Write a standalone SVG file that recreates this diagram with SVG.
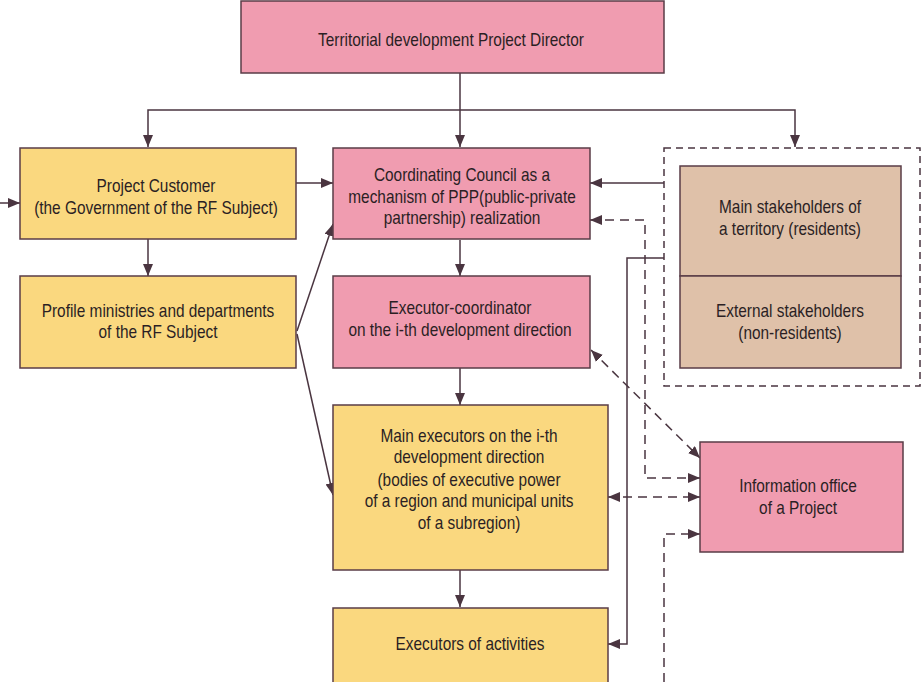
<svg xmlns="http://www.w3.org/2000/svg" width="922" height="682" viewBox="0 0 922 682">
<style>
.pink{fill:#f09cb0;stroke:#5a3c47;stroke-width:1.5}
.yellow{fill:#fad87f;stroke:#5a3c47;stroke-width:1.5}
.tan{fill:#dfc1a9;stroke:#5a3c47;stroke-width:1.5}
.frame{fill:none;stroke:#4a3540;stroke-width:1.5;stroke-dasharray:7,5}
text{font-family:"Liberation Sans",Arial,sans-serif;font-size:17.5px;fill:#2b1f24;text-anchor:middle}
.c{fill:none;stroke:#4a3540;stroke-width:1.5}
.d{fill:none;stroke:#4a3540;stroke-width:1.5;stroke-dasharray:9,6}
</style>
<defs>
<marker id="ah" viewBox="0 0 12 10" refX="12" refY="5" markerWidth="12" markerHeight="10" markerUnits="userSpaceOnUse" orient="auto-start-reverse">
<path d="M0,0 L12,5 L0,10 z" fill="#4a3540"/>
</marker>
</defs>
<rect width="922" height="682" fill="#ffffff"/>
<g id="connectors">
<path class="c" d="M460,73 V147" marker-end="url(#ah)"/>
<path class="c" d="M148,147 V110 H795 V147" marker-start="url(#ah)" marker-end="url(#ah)"/>
<path class="c" d="M0,203 H20" marker-end="url(#ah)"/>
<path class="c" d="M296,183 H333" marker-end="url(#ah)"/>
<path class="c" d="M148,239 V276" marker-end="url(#ah)"/>
<path class="c" d="M460,240 V276" marker-end="url(#ah)"/>
<path class="c" d="M460,368 V405" marker-end="url(#ah)"/>
<path class="c" d="M460,570 V607" marker-end="url(#ah)"/>
<path class="c" d="M297,331 L333,224" marker-end="url(#ah)"/>
<path class="c" d="M297,334 L333,495" marker-end="url(#ah)"/>
<path class="c" d="M664,183 H590" marker-end="url(#ah)"/>
<path class="c" d="M664,258 H627 V644 H608" marker-end="url(#ah)"/>
<path class="d" d="M590,220 H645 V478 H700" marker-start="url(#ah)" marker-end="url(#ah)"/>
<path class="d" d="M591,350 L700,458" marker-start="url(#ah)" marker-end="url(#ah)"/>
<path class="d" d="M608,497 H700" marker-start="url(#ah)" marker-end="url(#ah)"/>
<path class="d" d="M664,682 V534 H700" marker-end="url(#ah)"/>
</g>
<g id="director">
<rect class="pink" x="241" y="1" width="423" height="72"/>
<text transform="matrix(0.88 0 0 1 451 46)">Territorial development Project Director</text>
</g>
<g id="customer">
<rect class="yellow" x="20" y="148" width="276" height="91"/>
<text transform="matrix(0.88 0 0 1 156 192)">Project Customer</text>
<text transform="matrix(0.88 0 0 1 156 214)">(the Government of the RF Subject)</text>
</g>
<g id="profile">
<rect class="yellow" x="20" y="276" width="276" height="92"/>
<text transform="matrix(0.88 0 0 1 158 317)">Profile ministries and departments</text>
<text transform="matrix(0.88 0 0 1 158 338)">of the RF Subject</text>
</g>
<g id="council">
<rect class="pink" x="333" y="148" width="257" height="91"/>
<text transform="matrix(0.88 0 0 1 462 181)">Coordinating Council as a</text>
<text transform="matrix(0.88 0 0 1 462 203)">mechanism of PPP(public-private</text>
<text transform="matrix(0.88 0 0 1 462 224)">partnership) realization</text>
</g>
<g id="coordinator">
<rect class="pink" x="333" y="276" width="257" height="92"/>
<text transform="matrix(0.88 0 0 1 460 314)">Executor-coordinator</text>
<text transform="matrix(0.88 0 0 1 460 336)">on the i-th development direction</text>
</g>
<g id="main-executors">
<rect class="yellow" x="333" y="405" width="275" height="165"/>
<text transform="matrix(0.88 0 0 1 469 442)">Main executors on the i-th</text>
<text transform="matrix(0.88 0 0 1 469 463)">development direction</text>
<text transform="matrix(0.88 0 0 1 469 486)">(bodies of executive power</text>
<text transform="matrix(0.88 0 0 1 469 507)">of a region and municipal units</text>
<text transform="matrix(0.88 0 0 1 469 529)">of a subregion)</text>
</g>
<g id="executors">
<rect class="yellow" x="333" y="608" width="275" height="80"/>
<text transform="matrix(0.88 0 0 1 470 650)">Executors of activities</text>
</g>
<g id="stakeholders">
<rect class="frame" x="664" y="148" width="256" height="238"/>
<rect class="tan" x="680" y="166" width="221" height="110"/>
<rect class="tan" x="680" y="276" width="221" height="92"/>
<text transform="matrix(0.88 0 0 1 790 213)">Main stakeholders of</text>
<text transform="matrix(0.88 0 0 1 790 235)">a territory (residents)</text>
<text transform="matrix(0.88 0 0 1 790 317)">External stakeholders</text>
<text transform="matrix(0.88 0 0 1 790 339)">(non-residents)</text>
</g>
<g id="info-office">
<rect class="pink" x="700" y="442" width="203" height="110"/>
<text transform="matrix(0.88 0 0 1 798 492)">Information office</text>
<text transform="matrix(0.88 0 0 1 798 514)">of a Project</text>
</g>
</svg>
